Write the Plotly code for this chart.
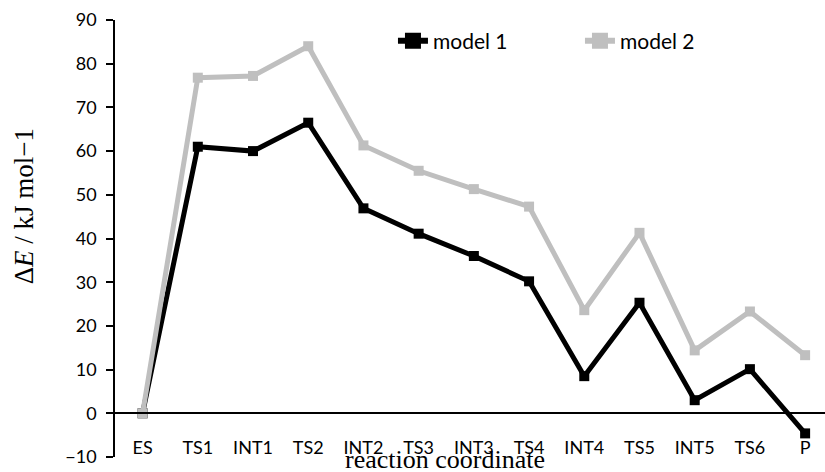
import plotly.graph_objects as go

categories = ["ES", "TS1", "INT1", "TS2", "INT2", "TS3", "INT3", "TS4",
              "INT4", "TS5", "INT5", "TS6", "P"]
model1 = [0, 61.0, 60.0, 66.5, 46.9, 41.1, 36.0, 30.2, 8.5, 25.3, 3.0, 10.1, -4.6]
model2 = [0, 76.8, 77.2, 84.0, 61.3, 55.5, 51.3, 47.3, 23.6, 41.3, 14.4, 23.3, 13.3]
y_ticks = [-10, 0, 10, 20, 30, 40, 50, 60, 70, 80, 90]
series_names = ["model 1", "model 2"]
series_colors = ["#000000", "#bfbfbf"]

x_idx = list(range(len(categories)))

fig = go.Figure()
for name, vals, col in zip(series_names, [model1, model2], series_colors):
    fig.add_trace(go.Scatter(
        x=x_idx, y=vals, name=name, mode="lines+markers",
        line=dict(color=col, width=5),
        marker=dict(symbol="square", size=10, color=col),
        cliponaxis=False, showlegend=False,
    ))
# legend entries with larger symbols, as in the reference
for name, col in zip(series_names, series_colors):
    fig.add_trace(go.Scatter(
        x=[None], y=[None], name=name, mode="lines+markers",
        line=dict(color=col, width=6),
        marker=dict(symbol="square", size=16, color=col),
        showlegend=True,
    ))

fig.update_layout(
    width=825, height=472,
    margin=dict(l=115, r=0, t=20, b=15),
    paper_bgcolor="white", plot_bgcolor="white",
    font=dict(family="Lato", size=18, color="#000000"),
    showlegend=True,
    legend=dict(orientation="h", x=0.3915, y=0.952, xanchor="left", yanchor="middle",
                font=dict(family="Lato", size=21), bgcolor="rgba(0,0,0,0)",
                entrywidth=142),
    xaxis=dict(
        range=[-0.5, 12.36],
        tickmode="array", tickvals=x_idx, ticktext=categories,
        showline=True, linecolor="#000000", linewidth=1.5,
        showgrid=False, zeroline=False, ticks="",
        anchor="free", position=0.1,
        ticklabelstandoff=18,
        tickfont=dict(family="Lato", size=18),
    ),
    yaxis=dict(
        range=[-10, 90],
        tickmode="array", tickvals=y_ticks,
        showline=True, linecolor="#000000", linewidth=1.5,
        ticks="outside", ticklen=7, tickwidth=1.5, tickcolor="#000000",
        showgrid=False, zeroline=False,
        ticklabelstandoff=6,
        tickfont=dict(family="Lato", size=18),
    ),
    annotations=[
        dict(text="reaction coordinate", xref="paper", yref="paper",
             x=0.4648, y=-0.006, xanchor="center", yanchor="middle",
             showarrow=False, font=dict(family="Liberation Serif", size=26)),
        dict(text="Δ<i>E</i> / kJ mol−1", xref="paper", yref="paper",
             x=-0.128, y=0.574, xanchor="center", yanchor="middle", textangle=-90,
             showarrow=False, font=dict(family="Liberation Serif", size=27)),
    ],
)

fig.write_html("out.html", config={"displayModeBar": False},
               post_script="document.body.style.margin='0';document.body.style.overflow='hidden';")
